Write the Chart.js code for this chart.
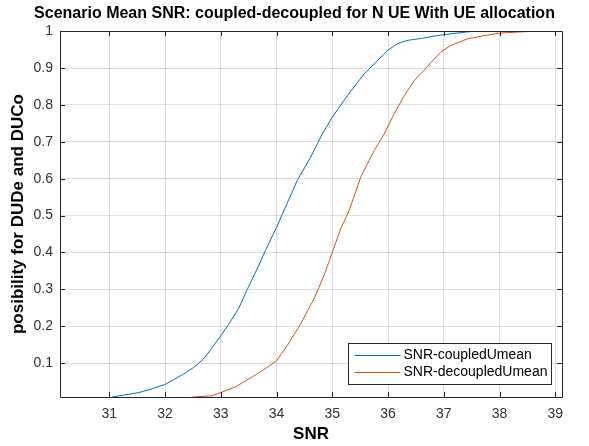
<!DOCTYPE html>
<html>
<head>
<meta charset="utf-8">
<script src="https://cdn.jsdelivr.net/npm/chart.js@4"></script>
<style>
  html, body { margin: 0; padding: 0; background: #fff; }
  #wrap { width: 589px; height: 446px; }
</style>
</head>
<body>
<div id="wrap"><canvas id="snr-chart"></canvas></div>
<script>
// values
const snrCoupled = [31.05, 31.3, 31.53, 31.74, 32.0, 32.33, 32.51, 32.69, 32.87, 33.0, 33.17, 33.32, 33.47, 33.65, 33.8, 34.0, 34.13, 34.37, 34.61, 34.82, 35.0, 35.27, 35.57, 35.81, 36.01, 36.17, 36.34, 36.58, 36.88, 37.12, 37.54];
const probCoupled = [0.008, 0.014, 0.02, 0.029, 0.042, 0.07, 0.088, 0.111, 0.147, 0.174, 0.212, 0.248, 0.298, 0.355, 0.405, 0.468, 0.513, 0.595, 0.658, 0.721, 0.767, 0.825, 0.884, 0.92, 0.95, 0.966, 0.975, 0.98, 0.988, 0.993, 1.0];
const snrDecoupled = [32.48, 32.84, 33.0, 33.27, 33.59, 33.8, 34.0, 34.19, 34.43, 34.67, 34.85, 35.0, 35.15, 35.3, 35.51, 35.75, 35.93, 36.11, 36.29, 36.47, 36.7, 36.94, 37.12, 37.42, 37.72, 38.02, 38.38, 38.62];
const probDecoupled = [0.008, 0.011, 0.02, 0.036, 0.065, 0.085, 0.106, 0.147, 0.206, 0.274, 0.337, 0.4, 0.464, 0.513, 0.604, 0.676, 0.721, 0.776, 0.825, 0.866, 0.903, 0.943, 0.961, 0.979, 0.988, 0.995, 0.998, 1.0];
const seriesNames = ['SNR-coupledUmean', 'SNR-decoupledUmean'];
const xTicks = [31, 32, 33, 34, 35, 36, 37, 38, 39];
const yTicks = [0.1, 0.2, 0.3, 0.4, 0.5, 0.6, 0.7, 0.8, 0.9, 1];

const AXIS = '#262626';
const FONT = "'Liberation Sans', Arial, sans-serif";

function pts(xs, ys) {
  return xs.map((x, i) => ({ x: x, y: ys[i] }));
}

// box, inward ticks and the legend, matlab style
const matlabFrame = {
  id: 'matlabFrame',
  afterDraw(chart) {
    const ctx = chart.ctx;
    const a = chart.chartArea;
    const xs = chart.scales.x, ys = chart.scales.y;
    ctx.save();
    ctx.strokeStyle = AXIS;
    ctx.lineWidth = 1;
    ctx.beginPath();
    ctx.rect(Math.round(a.left) + 0.5, Math.round(a.top) + 0.5, Math.round(a.right - a.left), Math.round(a.bottom - a.top));
    xTicks.forEach(v => {
      const px = Math.round(xs.getPixelForValue(v)) + 0.5;
      ctx.moveTo(px, a.bottom); ctx.lineTo(px, a.bottom - 5);
      ctx.moveTo(px, a.top); ctx.lineTo(px, a.top + 5);
    });
    yTicks.forEach(v => {
      const py = Math.round(ys.getPixelForValue(v)) + 0.5;
      ctx.moveTo(a.left, py); ctx.lineTo(a.left + 5, py);
      ctx.moveTo(a.right, py); ctx.lineTo(a.right - 5, py);
    });
    ctx.stroke();

    // legend
    const bx = Math.round(a.right - 11) + 0.5, by = Math.round(a.bottom - 13) + 0.5;
    const w = 203, h = 41;
    ctx.fillStyle = '#fff';
    ctx.fillRect(bx - w, by - h, w, h);
    ctx.strokeRect(bx - w, by - h, w, h);
    ctx.font = '14px ' + FONT;
    ctx.textBaseline = 'middle';
    chart.data.datasets.forEach((ds, i) => {
      const y = by - h + 12 + i * 17;
      ctx.strokeStyle = ds.borderColor;
      ctx.beginPath();
      ctx.moveTo(bx - w + 6, y); ctx.lineTo(bx - w + 52, y);
      ctx.stroke();
      ctx.fillStyle = '#000';
      ctx.fillText(ds.label, bx - w + 55, y);
    });
    ctx.restore();
  }
};

new Chart(document.getElementById('snr-chart'), {
  type: 'scatter',
  data: {
    datasets: [{
      label: seriesNames[0],
      data: pts(snrCoupled, probCoupled),
      borderColor: '#0072BD',
      backgroundColor: '#0072BD',
      showLine: true,
      borderWidth: 1,
      pointRadius: 0
    }, {
      label: seriesNames[1],
      data: pts(snrDecoupled, probDecoupled),
      borderColor: '#D95319',
      backgroundColor: '#D95319',
      showLine: true,
      borderWidth: 1,
      pointRadius: 0
    }]
  },
  options: {
    responsive: true,
    maintainAspectRatio: false,
    animation: false,
    layout: { padding: 0 },
    plugins: {
      legend: { display: false },
      tooltip: { enabled: false },
      title: {
        display: true,
        text: 'Scenario Mean SNR: coupled-decoupled for N UE With UE allocation',
        color: '#000',
        font: { family: FONT, size: 16, weight: 'bold' },
        padding: { top: 4, bottom: 8 }
      }
    },
    scales: {
      x: {
        type: 'linear',
        min: 30.116,
        max: 39.12,
        afterBuildTicks: s => { s.ticks = xTicks.map(v => ({ value: v })); },
        afterFit: s => { s.height = 49; },
        grid: { color: 'rgba(38,38,38,0.15)', drawTicks: false },
        border: { display: false },
        ticks: { color: '#333', font: { family: FONT, size: 14 }, padding: 9, maxRotation: 0 },
        title: { display: true, text: 'SNR', color: '#000', font: { family: FONT, size: 17, weight: 'bold' }, padding: { top: 0, bottom: 1 } }
      },
      y: {
        type: 'linear',
        min: 0.008,
        max: 1,
        afterBuildTicks: s => { s.ticks = yTicks.map(v => ({ value: v })); },
        afterFit: s => { s.width = 60; },
        grid: { color: 'rgba(38,38,38,0.15)', drawTicks: false },
        border: { display: false },
        ticks: { color: '#333', font: { family: FONT, size: 14 }, padding: 7, callback: v => String(Math.round(v * 10) / 10) },
        title: { display: true, text: 'posibility for DUDe and DUCo', color: '#000', font: { family: FONT, size: 17, weight: 'bold' }, padding: { top: 8, bottom: 0 } }
      },
      // empty right-hand strip so the title centres on the whole figure
      yRight: {
        type: 'linear',
        position: 'right',
        min: 0,
        max: 1,
        afterFit: s => { s.width = 27; },
        grid: { display: false, drawTicks: false },
        border: { display: false },
        ticks: { display: false }
      }
    }
  },
  plugins: [matlabFrame]
});
</script>
</body>
</html>
